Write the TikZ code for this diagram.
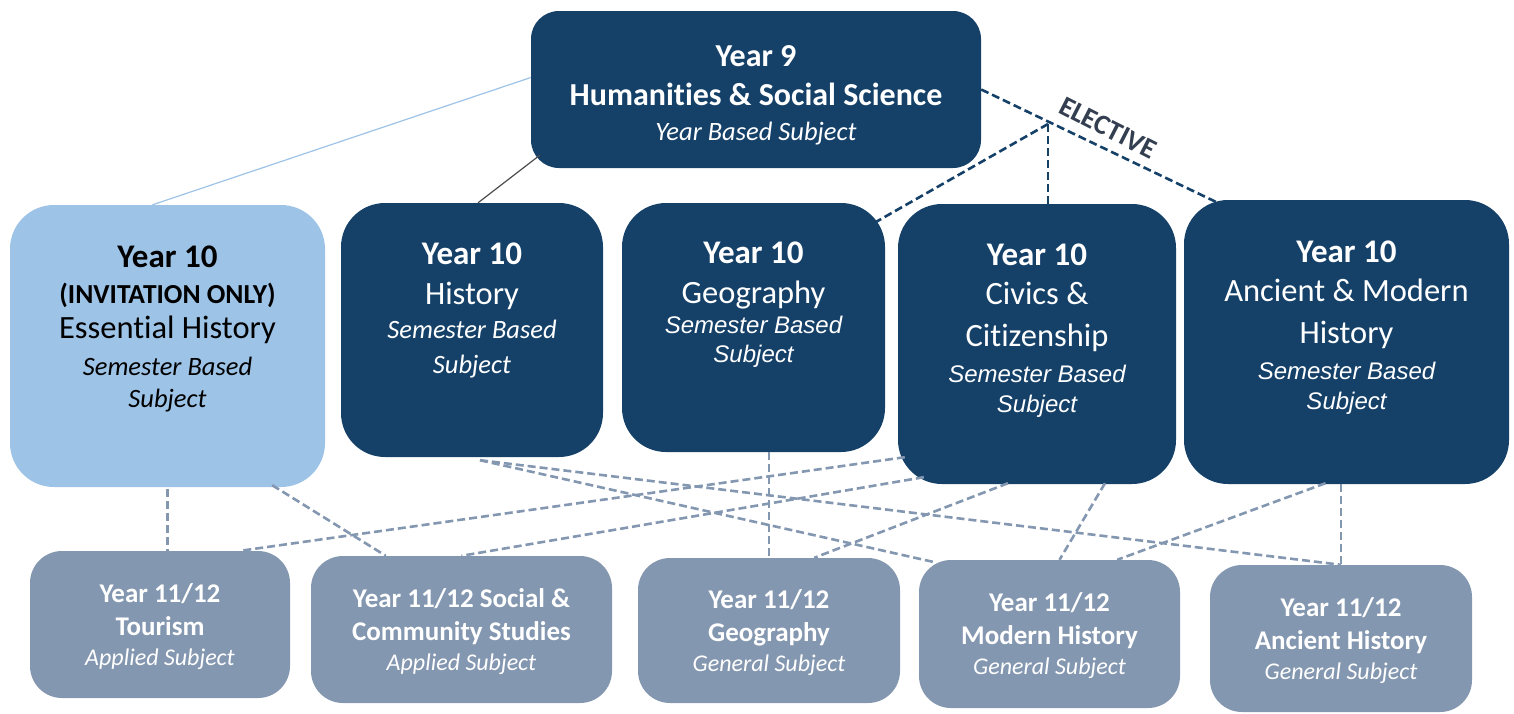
\documentclass[tikz,border=0pt]{standalone}
\usepackage{fontspec}
\setmainfont{Carlito}[Ligatures=NoCommon]
\newfontfamily\arialfont{Liberation Sans}
\usetikzlibrary{calc}

\definecolor{navy}{RGB}{21,65,105}
\definecolor{skyblue}{RGB}{157,195,230}
\definecolor{slate}{RGB}{132,151,176}
\definecolor{ink}{RGB}{51,63,80}

% italic subtitle lines (Calibri-like and Arial-like)
\newcommand\subj[1]{{\fontsize{26.5}{30}\selectfont\itshape #1}}
\newcommand\subjA[1]{{\arialfont\fontsize{24}{30}\selectfont\itshape #1}}
\newcommand\subjS[1]{{\fontsize{24}{26}\selectfont\mdseries\itshape #1}}

\begin{document}
\begin{tikzpicture}[x=1pt,y=-1pt,
  topbox/.style={fill=navy, rounded corners=28pt, inner sep=0pt},
  tenbox/.style={fill=navy, rounded corners=44pt, inner sep=0pt},
  elevbox/.style={fill=slate, rounded corners=32pt, inner sep=0pt},
  txt/.style={text=white, align=center, inner sep=0pt, font=\fontsize{32.5}{30}\selectfont},
  smalltxt/.style={text=white, align=center, inner sep=0pt, font=\fontsize{27}{26}\selectfont\bfseries},
  link/.style={slate, line width=2.6pt, dash pattern=on 8pt off 4pt},
  elec/.style={navy, line width=2.6pt, dash pattern=on 8pt off 4pt}]
  \useasboundingbox (0,0) rectangle (1514,713);

  % boxes
  \node[topbox, minimum width=450pt, minimum height=157pt] (y9) at (756,89.5) {};
  \node[tenbox, fill=skyblue, minimum width=315pt, minimum height=282pt] (e10) at (167.5,346) {};
  \node[tenbox, minimum width=262pt, minimum height=254pt] (h10) at (472,330) {};
  \node[tenbox, minimum width=263pt, minimum height=249pt] (g10) at (753.5,327.5) {};
  \node[tenbox, minimum width=278pt, minimum height=280pt] (c10) at (1037,344) {};
  \node[tenbox, minimum width=325pt, minimum height=284pt] (am10) at (1346.5,342) {};
  \node[elevbox, minimum width=260pt, minimum height=147pt] (t11) at (160,624.5) {};
  \node[elevbox, minimum width=301pt, minimum height=147pt] (s11) at (461.5,629.5) {};
  \node[elevbox, minimum width=262pt, minimum height=145pt] (g11) at (769,630.5) {};
  \node[elevbox, minimum width=261pt, minimum height=148pt] (m11) at (1049.5,634) {};
  \node[elevbox, minimum width=262pt, minimum height=147pt] (a11) at (1341,638.5) {};

  % texts
  \node[txt] (y9t) at (756,95) {{\fontsize{32}{30}\selectfont\bfseries Year 9}\\[9pt]{\fontsize{32}{30}\selectfont\bfseries Humanities \& Social Science}\\[5pt]\subj{Year Based Subject}};
  \node[txt, text=black] (e10t) at (167.5,329) {{\fontsize{33}{30}\selectfont\bfseries Year 10}\\[6pt]{\fontsize{27.5}{24}\selectfont\bfseries (INVITATION ONLY)}\\[5pt]Essential History\\[7pt]\subj{Semester Based}\\[2pt]\subj{Subject}};
  \node[txt] (h10t) at (472,310) {{\fontsize{33}{30}\selectfont\bfseries Year 10}\\[10pt]History\\[4pt]\subj{Semester Based}\\[5pt]\subj{Subject}};
  \node[txt] (g10t) at (753.5,305) {{\fontsize{33}{30}\selectfont\bfseries Year 10}\\[10pt]Geography\\[0pt]\subjA{Semester Based}\\[-1pt]\subjA{Subject}};
  \node[txt] (c10t) at (1037,331) {{\fontsize{33}{30}\selectfont\bfseries Year 10}\\[9pt]Civics \&\\[12pt]Citizenship\\[6pt]\subjA{Semester Based}\\[0pt]\subjA{Subject}};
  \node[txt] (am10t) at (1346.5,328) {{\fontsize{33}{30}\selectfont\bfseries Year 10}\\[9pt]Ancient \& Modern\\[12pt]History\\[6pt]\subjA{Semester Based}\\[0pt]\subjA{Subject}};
  \node[smalltxt] (t11t) at (160,627) {Year 11/12\\[7pt]Tourism\\[4pt]\subjS{Applied Subject}};
  \node[smalltxt] (s11t) at (461.5,632) {Year 11/12 Social \&\\[7pt]Community Studies\\[4pt]\subjS{Applied Subject}};
  \node[smalltxt] (g11t) at (769,633) {Year 11/12\\[7pt]Geography\\[4pt]\subjS{General Subject}};
  \node[smalltxt] (m11t) at (1049.5,636) {Year 11/12\\[7pt]Modern History\\[4pt]\subjS{General Subject}};
  \node[smalltxt] (a11t) at (1341,641) {Year 11/12\\[7pt]Ancient History\\[4pt]\subjS{General Subject}};

  % year 9 to year 10
  \draw[skyblue, line width=1.2pt] ($(y9.west)+(0,-12)$) -- ($(e10.north)+(-15,0)$);
  \draw[black!70, line width=1.2pt] ($(y9.south west)+(9,-13)$) -- ($(h10.north)+(6,0)$);
  \draw[elec] (y9.east) -- ($(am10.north west)+(34,3)$);
  \coordinate (el) at (1048,124);
  \draw[elec] (el) -- (el |- c10.north);
  \draw[elec] (el) -- ($(g10.north east)+(-9,19)$);
  \node[ink, rotate=-27, font=\fontsize{28}{28}\selectfont\bfseries] (elt) at (1108,128) {ELECTIVE};

  % year 10 to year 11/12
  \draw[link] (e10.south |- t11.north) ++(0,-62) -- ++(0,62);
  \draw[link] ($(e10.south east)+(-53,-2)$) -- ($(s11.north west)+(75,0)$);
  \draw[link] ($(h10.south)+(8,3)$) -- ($(m11.north west)+(14,2)$);
  \draw[link] ($(h10.south)+(8,3)$) -- (a11.north);
  \draw[link] (g11.north |- g10.south) -- (g11.north);
  \draw[link] ($(c10.south west)+(7,-27)$) -- ($(t11.north east)+(-50,0)$);
  \draw[link] ($(c10.south west)+(26,-7)$) -- (s11.north);
  \draw[link] ($(c10.south)+(-29,-1)$) -- ($(g11.north east)+(-86,0)$);
  \draw[link] ($(c10.south)+(68,-1)$) -- ($(m11.north)+(10,0)$);
  \draw[link] ($(am10.south)+(-21,-1)$) -- ($(m11.north east)+(-63,0)$);
  \draw[link] (a11.north |- am10.south) -- (a11.north);
\end{tikzpicture}
\end{document}
